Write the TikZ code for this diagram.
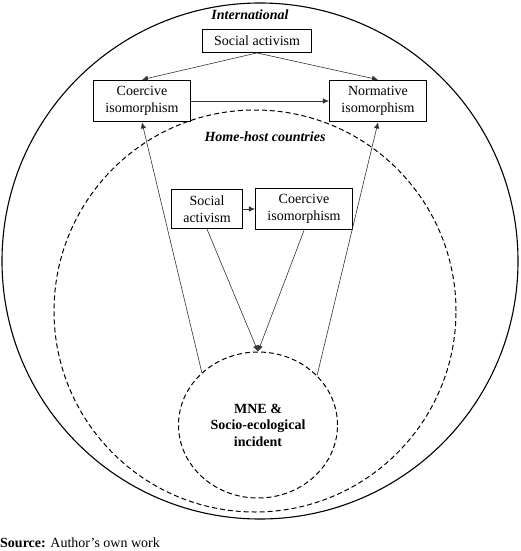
\documentclass[tikz,border=0pt]{standalone}
\usepackage{fontspec}
\setmainfont{Liberation Serif}
\usetikzlibrary{shapes.geometric,arrows.meta}
\newcommand{\fs}{\fontsize{14}{16.5}\selectfont}

\begin{document}
\begin{tikzpicture}[x=1pt,y=-1pt,>={Latex[length=6pt,width=5.5pt]},font=\fs,
    box/.style={draw,line width=1pt,align=center,inner xsep=12pt,inner ysep=6.5pt},
    con/.style={->,line width=0.6pt,black!80},
    ring/.style={draw,dash pattern=on 5pt off 3pt,line width=1pt}]
    \useasboundingbox (0,0) rectangle (520,551);
    \draw[line width=1.1pt] (260,261) circle[radius=258pt];
    \draw[ring] (255,311) circle[radius=201pt];
    \node[font=\fs\bfseries\itshape] (intl) at (250,15) {International};
    \node[font=\fs\bfseries\itshape] (home) at (265,137) {Home-host countries};
    \node[box] (sa) at (257,41) {Social activism};
    \node[box] (ci) at (142,101) {Coercive\\isomorphism};
    \node[box] (ni) at (378,101) {Normative\\isomorphism};
    \node[box] (hsa) at (207,209) {Social\\activism};
    \node[box] (hci) at (304,209) {Coercive\\isomorphism};
    \node[ring,ellipse,minimum width=159pt,minimum height=146pt,align=center,font=\fs\bfseries] (mne) at (258,425) {MNE \&\\Socio-ecological\\incident};
    \draw[con] (sa.south) -- (ci.north);
    \draw[con] (sa.south) -- (ni.north);
    \draw[con] (ci) -- (ni);
    \draw[con] (hsa) -- (hci);
    \draw[con] (hsa.south) -- (mne.north);
    \draw[con] (hci.south) -- (mne.north);
    \draw[con] (mne.137) -- (ci.south);
    \draw[con] (mne.40) -- (ni.south);
    \node[anchor=west,inner sep=0pt] (src) at (0,543) {\textbf{Source:} Author's own work};
\end{tikzpicture}
\end{document}
